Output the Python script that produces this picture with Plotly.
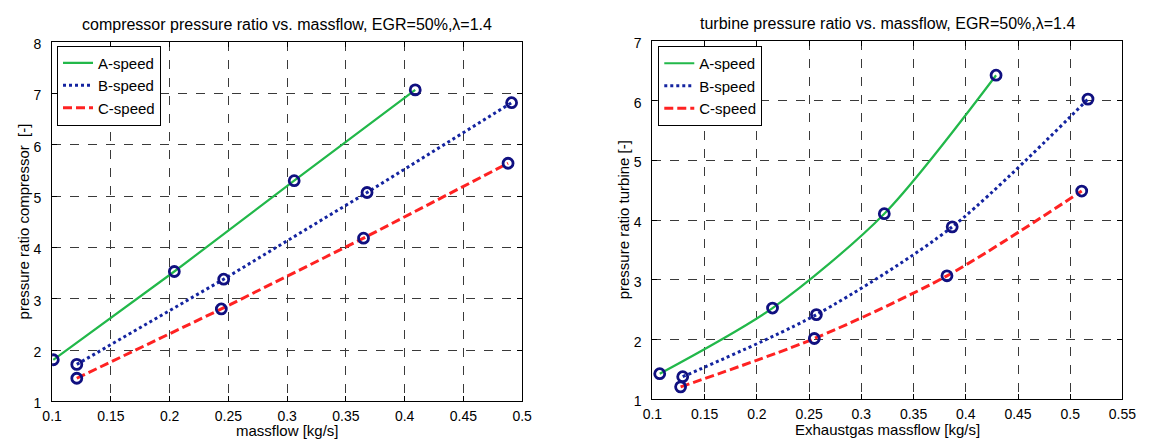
import plotly.graph_objects as go

# ---------------- data ----------------
# compressor (left)
comp_A_x = [0.101, 0.204, 0.306, 0.409]
comp_A_y = [1.81, 3.53, 5.30, 7.07]
comp_B_x = [0.121, 0.246, 0.368, 0.491]
comp_B_y = [1.72, 3.38, 5.07, 6.82]
comp_C_x = [0.121, 0.244, 0.365, 0.488]
comp_C_y = [1.45, 2.80, 4.18, 5.64]

# turbine (right)
turb_A_x = [0.107, 0.215, 0.322, 0.429]
turb_A_y = [1.43, 2.53, 4.11, 6.43]
turb_B_x = [0.129, 0.257, 0.387, 0.517]
turb_B_y = [1.38, 2.42, 3.89, 6.03]
turb_C_x = [0.127, 0.255, 0.382, 0.511]
turb_C_y = [1.21, 2.02, 3.07, 4.49]

series_names = ["A-speed", "B-speed", "C-speed"]

comp_xticks = [0.1, 0.15, 0.2, 0.25, 0.3, 0.35, 0.4, 0.45, 0.5]
comp_xlabels = ["0.1", "0.15", "0.2", "0.25", "0.3", "0.35", "0.4", "0.45", "0.5"]
comp_yticks = [1, 2, 3, 4, 5, 6, 7, 8]
turb_xticks = [0.1, 0.15, 0.2, 0.25, 0.3, 0.35, 0.4, 0.45, 0.5, 0.55]
turb_xlabels = ["0.1", "0.15", "0.2", "0.25", "0.3", "0.35", "0.4", "0.45", "0.5", "0.55"]
turb_yticks = [1, 2, 3, 4, 5, 6, 7]

# ---------------- styles ----------------
FONT = "Liberation Sans, Arial, sans-serif"
line_styles = [
    dict(color="#22b84a", width=2.2, dash="solid"),
    dict(color="#1424a0", width=3, dash="dot"),
    dict(color="#ff2222", width=3, dash="9px,4px"),
]
MARKER = dict(symbol="circle-open", size=10, color="#101080", line=dict(width=2.8, color="#101080"))

fig = go.Figure()

comp_sets = [(comp_A_x, comp_A_y), (comp_B_x, comp_B_y), (comp_C_x, comp_C_y)]
turb_sets = [(turb_A_x, turb_A_y), (turb_B_x, turb_B_y), (turb_C_x, turb_C_y)]

for (xs, ys), name, ls in zip(comp_sets, series_names, line_styles):
    fig.add_trace(go.Scatter(x=xs, y=ys, mode="lines", name=name, line=ls,
                             xaxis="x", yaxis="y", legend="legend"))
for (xs, ys) in comp_sets:
    fig.add_trace(go.Scatter(x=xs, y=ys, mode="markers", marker=MARKER,
                             showlegend=False, xaxis="x", yaxis="y"))

for (xs, ys), name, ls in zip(turb_sets, series_names, line_styles):
    fig.add_trace(go.Scatter(x=xs, y=ys, mode="lines", name=name,
                             line=dict(**ls, shape="spline", smoothing=0.8),
                             xaxis="x2", yaxis="y2", legend="legend2"))
for (xs, ys) in turb_sets:
    fig.add_trace(go.Scatter(x=xs, y=ys, mode="markers", marker=MARKER,
                             showlegend=False, xaxis="x2", yaxis="y2"))

W, H = 1158, 447
axis_common = dict(
    showline=True, linecolor="black", linewidth=1, mirror="ticks",
    ticks="inside", ticklen=5, tickcolor="black",
    showgrid=True, gridcolor="#3a3a3a", gridwidth=1, griddash="dash",
    zeroline=False, tickfont=dict(family=FONT, size=14, color="black"),
)

L = (43, 523, 37.5, 410)
R = (656, 1136, 36.5, 408)

def dom_x(a, b):
    return [a / W, b / W]

def dom_y(top, bot):
    return [(H - bot) / H, (H - top) / H]

legend_common = dict(xanchor="left", yanchor="top",
                     bgcolor="white", bordercolor="black", borderwidth=1,
                     font=dict(family=FONT, size=15, color="black"),
                     itemwidth=30, tracegroupgap=0)

fig.update_layout(
    width=W, height=H,
    margin=dict(l=0, r=0, t=0, b=0),
    paper_bgcolor="white", plot_bgcolor="white",
    font=dict(family=FONT, size=15, color="black"),
    xaxis=dict(axis_common, domain=dom_x(L[0], L[1]), range=[0.1, 0.5],
               tickvals=comp_xticks, ticktext=comp_xlabels, anchor="y",
               ticklabelstandoff=2),
    yaxis=dict(axis_common, domain=dom_y(L[2], L[3]), range=[1, 8],
               tickvals=comp_yticks, anchor="x", ticklabelstandoff=7,
               ticklabelshift=2),
    xaxis2=dict(axis_common, domain=dom_x(R[0], R[1]), range=[0.1, 0.55],
                tickvals=turb_xticks, ticktext=turb_xlabels, anchor="y2",
                ticklabelstandoff=2),
    yaxis2=dict(axis_common, domain=dom_y(R[2], R[3]), range=[1, 7],
                tickvals=turb_yticks, anchor="x2", ticklabelstandoff=7,
                ticklabelshift=2),
    legend=dict(legend_common, x=48 / W, y=(H - 41) / H),
    legend2=dict(legend_common, x=662 / W, y=(H - 41.5) / H),
    showlegend=True,
)

title_font = dict(family=FONT, size=16, color="black")
label_font = dict(family=FONT, size=15, color="black")
annotations = [
    dict(text="compressor pressure ratio vs. massflow, EGR=50%,λ=1.4",
         x=(L[0] + L[1]) / 2 / W, y=(H - 19) / H, font=title_font),
    dict(text="turbine pressure ratio vs. massflow, EGR=50%,λ=1.4",
         x=(R[0] + R[1]) / 2 / W, y=(H - 18) / H, font=title_font),
    dict(text="massflow [kg/s]", x=(L[0] + L[1]) / 2 / W, y=(H - 440) / H, font=label_font),
    dict(text="Exhaustgas massflow [kg/s]", x=(R[0] + R[1]) / 2 / W, y=(H - 439) / H, font=label_font),
    dict(text="pressure ratio compressor  [-]", x=14 / W, y=(H - (L[2] + L[3]) / 2) / H,
         textangle=-90, font=label_font),
    dict(text="pressure ratio turbine [-]", x=626 / W, y=(H - (R[2] + R[3]) / 2) / H,
         textangle=-90, font=label_font),
]
for a in annotations:
    fig.add_annotation(xref="paper", yref="paper", showarrow=False,
                       xanchor="center", yanchor="middle", **a)

fig.write_html("out.html")
